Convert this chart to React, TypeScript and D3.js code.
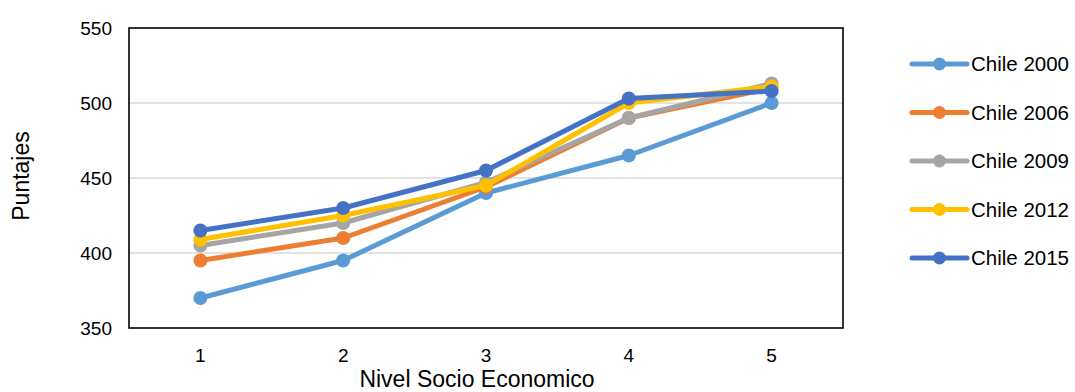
import React from "react";
import * as d3 from "d3";

// Socio-economic level (x categories)
const niveles = [1, 2, 3, 4, 5];
const yTicks = [350, 400, 450, 500, 550];

const seriesNames = ["Chile 2000", "Chile 2006", "Chile 2009", "Chile 2012", "Chile 2015"];
const seriesColors = ["#5B9BD5", "#ED7D31", "#A5A5A5", "#FFC000", "#4472C4"];

const chile2000 = [370, 395, 440, 465, 500];
const chile2006 = [395, 410, 444, 490, 510];
const chile2009 = [405, 420, 447, 490, 513];
const chile2012 = [409, 425, 445, 500, 511];
const chile2015 = [415, 430, 455, 503, 508];

const seriesValues = [chile2000, chile2006, chile2009, chile2012, chile2015];

const W = 1075;
const H = 392;
const plot = { left: 129, right: 843, top: 28, bottom: 328 };
const FONT = "'Liberation Sans', Arial, sans-serif";

export default function App() {
  const x = d3
    .scalePoint<number>()
    .domain(niveles)
    .range([plot.left, plot.right])
    .padding(0.5);
  const y = d3.scaleLinear().domain([350, 550]).range([plot.bottom, plot.top]);

  const line = d3
    .line<number>()
    .x((_, i) => x(niveles[i]) as number)
    .y((v) => y(v));

  const legendX0 = 912;
  const legendX1 = 967;
  const legendY0 = 64;
  const legendStep = 48.5;

  return (
    <svg
      width={W}
      height={H}
      style={{ position: "absolute", left: 0, top: 0, background: "#fff" }}
      fontFamily={FONT}
    >
      <rect x={0} y={0} width={W} height={H} fill="#fff" />

      {/* horizontal gridlines */}
      {yTicks
        .filter((t) => t !== 350 && t !== 550)
        .map((t) => (
          <line
            key={"g" + t}
            x1={plot.left}
            x2={plot.right}
            y1={y(t)}
            y2={y(t)}
            stroke="#d9d9d9"
            strokeWidth={1.5}
          />
        ))}

      {/* plot frame */}
      <rect
        x={plot.left}
        y={plot.top}
        width={plot.right - plot.left}
        height={plot.bottom - plot.top}
        fill="none"
        stroke="#000"
        strokeWidth={1.6}
      />

      {/* y tick labels */}
      {yTicks.map((t) => (
        <text
          key={"y" + t}
          x={112}
          y={y(t)}
          dy="0.35em"
          textAnchor="end"
          fontSize={19}
          fill="#000"
        >
          {t}
        </text>
      ))}

      {/* x tick labels */}
      {niveles.map((n) => (
        <text
          key={"x" + n}
          x={x(n) as number}
          y={362}
          textAnchor="middle"
          fontSize={19}
          fill="#000"
        >
          {n}
        </text>
      ))}

      {/* axis titles */}
      <text x={477} y={387} textAnchor="middle" fontSize={23} fill="#000">
        Nivel Socio Economico
      </text>
      <text
        transform={`translate(29,176) rotate(-90)`}
        textAnchor="middle"
        fontSize={23}
        fill="#000"
      >
        Puntajes
      </text>

      {/* series */}
      {seriesValues.map((vals, si) => (
        <g key={seriesNames[si]}>
          <path
            d={line(vals) ?? ""}
            fill="none"
            stroke={seriesColors[si]}
            strokeWidth={5}
            strokeLinejoin="round"
            strokeLinecap="round"
          />
          {vals.map((v, i) => (
            <circle
              key={i}
              cx={x(niveles[i]) as number}
              cy={y(v)}
              r={7}
              fill={seriesColors[si]}
            />
          ))}
        </g>
      ))}

      {/* legend */}
      {seriesNames.map((name, si) => {
        const ly = legendY0 + si * legendStep;
        return (
          <g key={"l" + name}>
            <line
              x1={legendX0}
              x2={legendX1}
              y1={ly}
              y2={ly}
              stroke={seriesColors[si]}
              strokeWidth={5}
              strokeLinecap="round"
            />
            <circle cx={(legendX0 + legendX1) / 2} cy={ly} r={6.5} fill={seriesColors[si]} />
            <text x={971} y={ly} dy="0.35em" fontSize={20.5} fill="#000">
              {name}
            </text>
          </g>
        );
      })}
    </svg>
  );
}
